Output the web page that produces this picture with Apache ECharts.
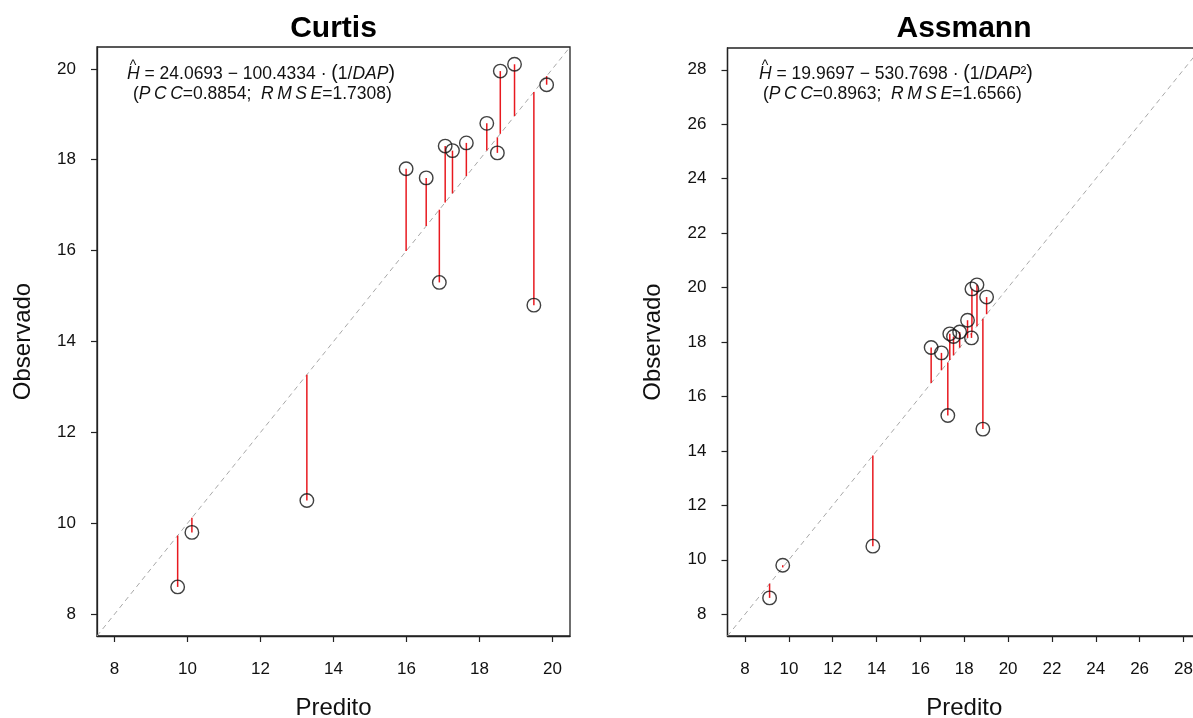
<!DOCTYPE html>
<html>
<head>
<meta charset="utf-8">
<script src="https://cdn.jsdelivr.net/npm/echarts@6/dist/echarts.min.js"></script>
<style>
html,body{margin:0;padding:0;background:#fff;overflow:hidden;width:1193px;height:718px;}
#chart{width:1215px;height:718px;}
</style>
</head>
<body>
<div id="chart"></div>
<script>
// ---- data ----
const observed    = [17.8, 17.6, 18.3, 18.2, 18.37, 18.8, 18.15, 19.95, 20.1, 19.65, 15.3, 14.8, 10.5, 9.8, 8.6];
const predCurtis  = [15.99, 16.54, 17.06, 17.26, 17.64, 18.2, 18.49, 18.57, 18.96, 19.84, 16.9, 19.49, 13.27, 10.12, 9.73];
const predAssmann = [16.49, 16.96, 17.34, 17.51, 17.79, 18.15, 18.33, 18.35, 18.58, 19.02, 17.25, 18.85, 13.83, 9.72, 9.12];
const ticksCurtis  = [8, 10, 12, 14, 16, 18, 20];
const ticksAssmann = [8, 10, 12, 14, 16, 18, 20, 22, 24, 26, 28];
const limCurtis  = [7.52, 20.48];
const limAssmann = [7.2, 28.8];
const titles = ['Curtis', 'Assmann'];

const FONT = '"Liberation Sans", Arial, sans-serif';
const chart = echarts.init(document.getElementById('chart'), null, {renderer: 'canvas'});

function axisX(idx, lim, ticks) {
  return {
    type: 'value', gridIndex: idx, min: lim[0], max: lim[1],
    axisLine: {show: true, onZero: false, lineStyle: {color: '#222', width: 1.3}},
    axisTick: {show: true, length: 6, customValues: ticks, lineStyle: {color: '#222', width: 1.2}},
    axisLabel: {customValues: ticks, fontSize: 17, color: '#111', margin: 25, fontFamily: FONT},
    splitLine: {show: false},
    name: 'Predito', nameLocation: 'middle', nameGap: 60, nameMoveOverlap: false,
    nameTextStyle: {fontSize: 24, color: '#111', fontFamily: FONT}
  };
}
function axisY(idx, lim, ticks) {
  return {
    type: 'value', gridIndex: idx, min: lim[0], max: lim[1],
    axisLine: {show: true, onZero: false, lineStyle: {color: '#222', width: 1.3}},
    axisTick: {show: true, length: 6, customValues: ticks, lineStyle: {color: '#222', width: 1.2}},
    axisLabel: {customValues: ticks, fontSize: 17, color: '#111', margin: 21, fontFamily: FONT},
    splitLine: {show: false},
    name: 'Observado', nameLocation: 'middle', nameGap: 62, nameMoveOverlap: false,
    nameTextStyle: {fontSize: 24, color: '#111', fontFamily: FONT}
  };
}
function panelSeries(idx, pred, lim) {
  const pts = pred.map((p, i) => [p, observed[i]]);
  return [
    {
      type: 'line', xAxisIndex: idx, yAxisIndex: idx, silent: true, clip: true,
      data: [[lim[0], lim[0]], [lim[1], lim[1]]], symbol: 'none',
      lineStyle: {color: '#a8a8a8', width: 1, type: [5, 4]}, z: 1
    },
    {
      type: 'custom', xAxisIndex: idx, yAxisIndex: idx, silent: true,
      data: pts, encode: {x: 0, y: 1},
      renderItem: function (params, api) {
        const p = api.value(0), o = api.value(1);
        const a = api.coord([p, o]);
        const b = api.coord([p, p]);
        return {type: 'line', shape: {x1: a[0], y1: a[1], x2: b[0], y2: b[1]},
                style: {stroke: '#e8191f', lineWidth: 1.5}};
      }, z: 2
    },
    {
      type: 'scatter', xAxisIndex: idx, yAxisIndex: idx, silent: true,
      data: pts, symbol: 'circle', symbolSize: 13.5,
      itemStyle: {color: 'rgba(0,0,0,0)', borderColor: '#111', borderWidth: 1.4}, z: 3
    }
  ];
}

function formula(x, y, text) {
  return {type: 'text', x: x, y: y, silent: true,
    style: {text: text, fontSize: 17.5, fontFamily: FONT, fill: '#111', verticalAlign: 'middle', align: 'left',
      rich: {i: {fontStyle: 'italic', fontSize: 17.5, fontFamily: FONT, fill: '#111'},
             p: {fontSize: 19.5, fontFamily: FONT, fill: '#111'}}}};
}
function hat(x, y) {
  return {type: 'text', x: x, y: y, silent: true,
    style: {text: '^', fontSize: 14, fontFamily: FONT, fill: '#111', align: 'center', verticalAlign: 'middle'}};
}

const option = {
  animation: false,
  backgroundColor: '#fff',
  grid: [
    {left: 97, top: 47, width: 473, height: 589, show: true, borderColor: '#222', borderWidth: 1.3,
     containLabel: false, outerBoundsMode: 'none'},
    {left: 727.5, top: 48, width: 473.5, height: 588, show: true, borderColor: '#222', borderWidth: 1.3,
     containLabel: false, outerBoundsMode: 'none'}
  ],
  xAxis: [axisX(0, limCurtis, ticksCurtis), axisX(1, limAssmann, ticksAssmann)],
  yAxis: [axisY(0, limCurtis, ticksCurtis), axisY(1, limAssmann, ticksAssmann)],
  series: [].concat(panelSeries(0, predCurtis, limCurtis), panelSeries(1, predAssmann, limAssmann)),
  graphic: [
    {type: 'text', x: 333.5, y: 29, silent: true,
     style: {text: titles[0], fontSize: 30, fontWeight: 'bold', fontFamily: FONT, fill: '#000', align: 'center', verticalAlign: 'middle'}},
    {type: 'text', x: 964, y: 29, silent: true,
     style: {text: titles[1], fontSize: 30, fontWeight: 'bold', fontFamily: FONT, fill: '#000', align: 'center', verticalAlign: 'middle'}},
    formula(127, 74, '{i|H} = 24.0693 − 100.4334 · {p|(}1/{i|DAP}{p|)}'),
    formula(133, 94, '({i|P\u2009C\u2009C}=0.8854;  {i|R\u2009M\u2009S\u2009E}=1.7308)'),
    hat(133, 66),
    formula(759, 74, '{i|H} = 19.9697 − 530.7698 · {p|(}1/{i|DAP}²{p|)}'),
    formula(763, 94, '({i|P\u2009C\u2009C}=0.8963;  {i|R\u2009M\u2009S\u2009E}=1.6566)'),
    hat(765, 66)
  ]
};
chart.setOption(option);
</script>
</body>
</html>
